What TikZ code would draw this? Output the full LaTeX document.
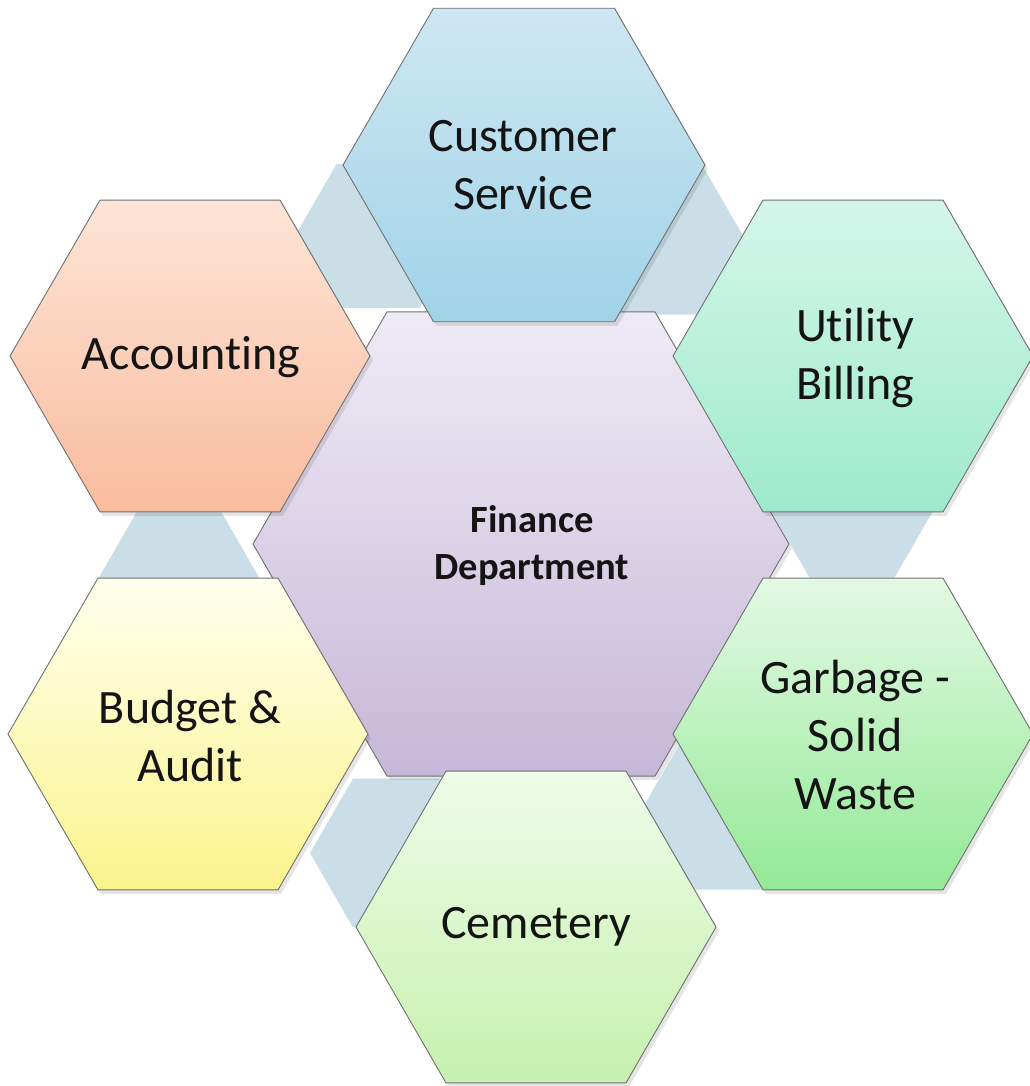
\documentclass[tikz,border=0pt]{standalone}
\usepackage{fontspec}
\newfontfamily\calib[Ligatures={NoCommon,TeX}]{Carlito}
\definecolor{piecefill}{RGB}{202,222,231}
\definecolor{edgecol}{RGB}{112,112,112}
\definecolor{csT}{RGB}{206,231,242}\definecolor{csB}{RGB}{160,211,232}
\definecolor{acT}{RGB}{253,228,214}\definecolor{acB}{RGB}{249,188,158}
\definecolor{ubT}{RGB}{212,246,234}\definecolor{ubB}{RGB}{158,234,204}
\definecolor{gsT}{RGB}{226,249,228}\definecolor{gsB}{RGB}{148,233,150}
\definecolor{baT}{RGB}{255,255,238}\definecolor{baB}{RGB}{250,244,140}
\definecolor{ceT}{RGB}{238,252,232}\definecolor{ceB}{RGB}{198,241,174}
\definecolor{fiT}{RGB}{239,235,245}\definecolor{fiB}{RGB}{198,184,216}
\newcommand\hexat[4]{\path[#4] (#1,#2) +(0:#3) -- +(60:#3) -- +(120:#3) -- +(180:#3) -- +(240:#3) -- +(300:#3) -- cycle;}
\tikzset{
  hexline/.style={draw=edgecol, line width=0.9pt, line join=miter},
  hexshadow/.style={fill=black, opacity=0.10},
  piece/.style={fill=piecefill},
  lab/.style={font=\calib\fontsize{48}{58}\selectfont, align=center, text=black!92, inner sep=0pt},
  mainlab/.style={font=\calib\bfseries\fontsize{38.5}{47}\selectfont, align=center, text=black!92, inner sep=0pt}
}
\begin{document}
\begin{tikzpicture}[x=1pt,y=-1pt]
\useasboundingbox (0,0) rectangle (1029,1086);
\fill[white] (0,0) rectangle (1029,1086);
% connector pieces (behind)
\hexat{378}{236}{83}{piece}
\hexat{661}{241}{85}{piece}
\hexat{179}{586}{85}{piece}
\hexat{852}{504}{85}{piece}
\hexat{396}{853}{86}{piece}
\hexat{723}{816}{85}{piece}
% centre hexagon
\hexat{524}{548}{268}{hexshadow}
\hexat{521}{544}{268}{hexline, top color=fiT, bottom color=fiB}
% outer hexagons
\hexat{527}{169}{181}{hexshadow}
\hexat{524}{165}{181}{hexline, top color=csT, bottom color=csB}
\hexat{193}{360}{180}{hexshadow}
\hexat{190}{356}{180}{hexline, top color=acT, bottom color=acB}
\hexat{856}{360}{180}{hexshadow}
\hexat{853}{356}{180}{hexline, top color=ubT, bottom color=ubB}
\hexat{856}{738}{180}{hexshadow}
\hexat{853}{734}{180}{hexline, top color=gsT, bottom color=gsB}
\hexat{191}{738}{180}{hexshadow}
\hexat{188}{734}{180}{hexline, top color=baT, bottom color=baB}
\hexat{539}{931}{180}{hexshadow}
\hexat{536}{927}{180}{hexline, top color=ceT, bottom color=ceB}
% labels
\node[mainlab] (fin) at (532,546) {Finance\\Department};
\node[lab] (cs) at (523,165) {Customer\\Service};
\node[lab] (acc) at (191,357) {Accounting};
\node[lab] (ub) at (855,358) {Utility\\Billing};
\node[lab] (gsw) at (855,735) {Garbage -\\Solid\\Waste};
\node[lab] (ba) at (190,736) {Budget \&\\Audit};
\node[lab] (cem) at (536,927) {Cemetery};
\end{tikzpicture}
\end{document}
